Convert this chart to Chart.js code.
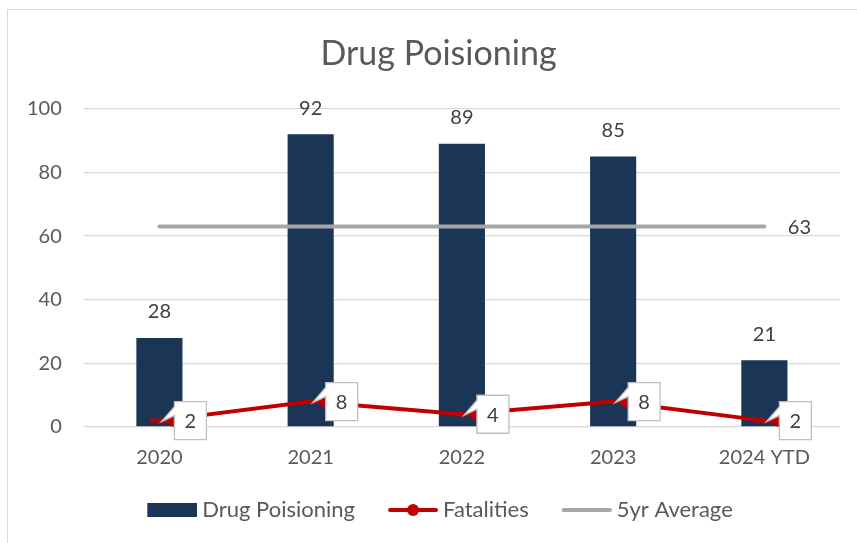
<!DOCTYPE html>
<html>
<head>
<meta charset="utf-8">
<script src="https://cdn.jsdelivr.net/npm/chart.js@4"></script>
<style>
  html, body { margin: 0; padding: 0; background: #fff; }
  #wrap { position: relative; width: 857px; height: 543px; }
  #frame { position: absolute; left: 7px; top: 9px; right: 0; bottom: 0; border-top: 1px solid #d9d9d9; border-left: 1px solid #d9d9d9; }
  canvas { position: absolute; left: 0; top: 0; }
</style>
</head>
<body>
<div id="wrap">
  <div id="frame"></div>
  <canvas id="drugChart" width="857" height="543"></canvas>
</div>
<script>
// DATA
const years = ['2020', '2021', '2022', '2023', '2024 YTD'];
const drugPoisoning = [28, 92, 89, 85, 21];
const fatalities = [2, 8, 4, 8, 2];
const fiveYrAvg = [63, 63, 63, 63, 63];
const yTicks = [0, 20, 40, 60, 80, 100];

const NAVY = '#1b3556';
const RED = '#c00000';
const GRAY = '#a6a6a6';
const TXT = '#595959';
const FONT = 'Lato, "Open Sans", sans-serif';

// legend markers: transparent margin on the left, visible mark on the right
const BOX_W = 67;
const MARK_PAD = BOX_W - 38;
function marker(kind) {
  const c = document.createElement('canvas');
  c.width = MARK_PAD + 50; c.height = 16;
  const g = c.getContext('2d');
  const x0 = MARK_PAD;
  if (kind === 'bar') {
    g.fillStyle = NAVY;
    g.fillRect(x0, 1, 50, 14);
  } else {
    g.strokeStyle = kind === 'red' ? RED : GRAY;
    g.lineWidth = 4;
    g.lineCap = 'round';
    g.beginPath(); g.moveTo(x0 + 2, 8); g.lineTo(x0 + 48, 8); g.stroke();
    if (kind === 'red') {
      g.fillStyle = RED;
      g.beginPath(); g.arc(x0 + 25, 8, 6, 0, Math.PI * 2); g.fill();
    }
  }
  return c;
}

// nudge title and legend to sit where the original has them
const nudge = {
  id: 'nudge',
  afterLayout(chart) {
    chart.titleBlock.left += 16; chart.titleBlock.right += 16;
    chart.legend.left += 6; chart.legend.right += 6;
  }
};

// LABELS
const valueLabels = {
  id: 'valueLabels',
  afterDatasetsDraw(chart) {
    const ctx = chart.ctx;
    ctx.save();
    ctx.font = '20px ' + FONT;
    ctx.textAlign = 'center';
    ctx.textBaseline = 'middle';

    chart.getDatasetMeta(0).data.forEach((bar, i) => {
      ctx.fillStyle = '#404040';
      ctx.fillText(drugPoisoning[i], bar.x, bar.y - 26);
    });

    chart.getDatasetMeta(1).data.forEach((pt, i) => {
      const L = pt.x + 15, T = pt.y - 19, W = 32, H = 38;
      ctx.beginPath();
      ctx.moveTo(L, T);
      ctx.lineTo(L + W, T);
      ctx.lineTo(L + W, T + H);
      ctx.lineTo(L, T + H);
      ctx.lineTo(L, T + 14);
      ctx.lineTo(pt.x + 2, pt.y + 1);
      ctx.lineTo(L, T + 5);
      ctx.closePath();
      ctx.fillStyle = '#fff';
      ctx.fill();
      ctx.strokeStyle = '#bfbfbf';
      ctx.lineWidth = 1.3;
      ctx.stroke();
      ctx.fillStyle = '#404040';
      ctx.fillText(fatalities[i], L + W / 2, T + H / 2 + 1);
    });

    const avgPts = chart.getDatasetMeta(2).data;
    const last = avgPts[avgPts.length - 1];
    ctx.fillStyle = '#404040';
    ctx.fillText(fiveYrAvg[fiveYrAvg.length - 1], last.x + 35, last.y + 1);
    ctx.restore();
  }
};

new Chart(document.getElementById('drugChart'), {
  type: 'bar',
  data: {
    labels: years,
    datasets: [{
      label: 'Drug Poisioning',
      data: drugPoisoning,
      backgroundColor: NAVY,
      barPercentage: 0.61,
      categoryPercentage: 0.5,
      order: 3,
      pointStyle: marker('bar')
    }, {
      type: 'line',
      label: 'Fatalities',
      data: fatalities,
      borderColor: RED,
      backgroundColor: RED,
      borderWidth: 4,
      pointRadius: 5,
      pointBackgroundColor: RED,
      pointBorderColor: RED,
      order: 1,
      pointStyle: marker('red')
    }, {
      type: 'line',
      label: '5yr Average',
      data: fiveYrAvg,
      borderColor: GRAY,
      backgroundColor: GRAY,
      borderWidth: 4,
      borderCapStyle: 'round',
      pointRadius: 0,
      order: 2,
      pointStyle: marker('gray')
    }]
  },
  options: {
    responsive: false,
    animation: false,
    layout: { padding: { left: 5, right: 17, top: 34, bottom: 12 } },
    scales: {
      y: {
        min: 0,
        max: 100,
        afterBuildTicks: axis => { axis.ticks = yTicks.map(v => ({ value: v })); },
        ticks: { color: TXT, font: { size: 20, family: FONT }, padding: 22 },
        grid: { color: '#d9d9d9', lineWidth: 1.3, drawTicks: false },
        border: { display: false }
      },
      x: {
        ticks: { color: TXT, font: { size: 20, family: FONT }, padding: 19 },
        grid: { display: false, drawTicks: false },
        border: { display: false }
      }
    },
    plugins: {
      title: {
        display: true,
        text: 'Drug Poisioning',
        color: TXT,
        font: { size: 34, family: FONT, weight: 'normal' },
        padding: { top: 0, bottom: 34 }
      },
      legend: {
        position: 'bottom',
        labels: {
          usePointStyle: true,
          pointStyleWidth: BOX_W,
          boxHeight: 16,
          color: TXT,
          font: { size: 22, family: FONT },
          padding: 10,
          sort: (a, b) => a.datasetIndex - b.datasetIndex
        }
      },
      tooltip: { enabled: false }
    }
  },
  plugins: [valueLabels, nudge]
});
</script>
</body>
</html>
